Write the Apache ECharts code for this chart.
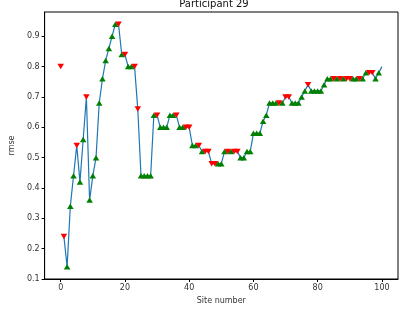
<!DOCTYPE html>
<html>
<head>
<meta charset="utf-8">
<script src="https://cdn.jsdelivr.net/npm/echarts@6/dist/echarts.min.js"></script>
<style>
html,body{margin:0;padding:0;background:#fff;}
#chart{width:400px;height:310px;}
</style>
</head>
<body>
<div id="chart"></div>
<script>
// Site numbers 0..100
const siteNumbers = [0,1,2,3,4,5,6,7,8,9,10,11,12,13,14,15,16,17,18,19,20,21,22,23,24,25,26,27,28,29,30,31,32,33,34,35,36,37,38,39,40,41,42,43,44,45,46,47,48,49,50,51,52,53,54,55,56,57,58,59,60,61,62,63,64,65,66,67,68,69,70,71,72,73,74,75,76,77,78,79,80,81,82,83,84,85,86,87,88,89,90,91,92,93,94,95,96,97,98,99,100];
// rmse value at each site
const rmseValues = [0.80,0.24,0.14,0.34,0.44,0.54,0.42,0.56,0.70,0.36,
  0.44,0.50,0.68,0.76,0.82,0.86,0.90,0.94,0.94,0.84,
  0.84,0.80,0.80,0.80,0.66,0.44,0.44,0.44,0.44,0.64,
  0.64,0.60,0.60,0.60,0.64,0.64,0.64,0.60,0.60,0.60,
  0.60,0.54,0.54,0.54,0.52,0.52,0.52,0.48,0.48,0.48,
  0.48,0.52,0.52,0.52,0.52,0.52,0.50,0.50,0.52,0.52,
  0.58,0.58,0.58,0.62,0.64,0.68,0.68,0.68,0.68,0.68,
  0.70,0.70,0.68,0.68,0.68,0.70,0.72,0.74,0.72,0.72,
  0.72,0.72,0.74,0.76,0.76,0.76,0.76,0.76,0.76,0.76,
  0.76,0.76,0.76,0.76,0.76,0.78,0.78,0.78,0.76,0.78,
  0.80];
// marker kind per site 0..99 : 'g' = green up-triangle, 'r' = red down-triangle
const markerKinds = ['r','r','g','g','g','r','g','g','r','g',
  'g','g','g','g','g','g','g','g','r','g',
  'r','g','g','r','r','g','g','g','g','g',
  'r','g','g','g','g','g','r','g','g','r',
  'r','g','g','r','g','r','r','r','r','g',
  'g','g','r','g','r','r','g','g','g','g',
  'g','g','g','g','g','g','g','g','r','g',
  'r','r','g','g','g','g','g','r','g','g',
  'g','g','g','g','g','r','g','r','g','r',
  'r','g','g','r','g','g','r','r','g','g'];
const xTicks = [0,20,40,60,80,100];
const yTicks = [0.1,0.2,0.3,0.4,0.5,0.6,0.7,0.8,0.9];

const lineData = [];
for (let i = 1; i < siteNumbers.length; i++) lineData.push([siteNumbers[i], rmseValues[i]]);
const greenData = [], redData = [];
for (let i = 0; i < markerKinds.length; i++) {
  if (markerKinds[i] === 'g') greenData.push([siteNumbers[i], rmseValues[i]]);
  else redData.push([siteNumbers[i], rmseValues[i]]);
}

const font = 'DejaVu Sans';
const chart = echarts.init(document.getElementById('chart'), null, {renderer: 'canvas'});
chart.setOption({
  animation: false,
  backgroundColor: '#fff',
  title: {
    text: 'Participant 29',
    left: 214, top: -1, textAlign: 'center', padding: 0,
    textStyle: {fontFamily: font, fontSize: 10, fontWeight: 'normal', color: '#111'}
  },
  grid: {left: 30, right: 2, top: 12, bottom: 23, show: true, borderColor: '#000', borderWidth: 1, backgroundColor: 'transparent'},
  xAxis: {
    type: 'value', min: -5, max: 105,
    splitLine: {show: false},
    axisLine: {show: true, onZero: false, lineStyle: {color: '#000', width: 1}},
    axisTick: {show: true, length: 3, customValues: xTicks, lineStyle: {color: '#000'}},
    axisLabel: {customValues: xTicks, margin: 5, fontFamily: font, fontSize: 8, color: '#333'},
    name: 'Site number', nameLocation: 'middle', nameGap: 18,
    nameTextStyle: {fontFamily: font, fontSize: 8, color: '#333'}
  },
  yAxis: {
    type: 'value', min: 0.1, max: 0.98,
    splitLine: {show: false},
    axisLine: {show: true, onZero: false, lineStyle: {color: '#000', width: 1}},
    axisTick: {show: true, length: 3, customValues: yTicks, lineStyle: {color: '#000'}},
    axisLabel: {customValues: yTicks, margin: 5, fontFamily: font, fontSize: 8, color: '#333'},
    name: 'rmse', nameLocation: 'middle', nameGap: 25,
    nameTextStyle: {fontFamily: font, fontSize: 8, color: '#333'}
  },
  series: [
    {type: 'line', data: lineData, showSymbol: false, symbol: 'none', z: 2,
      lineStyle: {color: '#1f77b4', width: 1.2}},
    {type: 'scatter', data: greenData, symbol: 'triangle', symbolSize: [6.5, 5.5], z: 3,
      itemStyle: {color: '#008000', opacity: 1}},
    {type: 'scatter', data: redData, symbol: 'triangle', symbolRotate: 180, symbolSize: [6.5, 5.5], z: 4,
      itemStyle: {color: '#ff0000', opacity: 1}}
  ]
});
</script>
</body>
</html>
